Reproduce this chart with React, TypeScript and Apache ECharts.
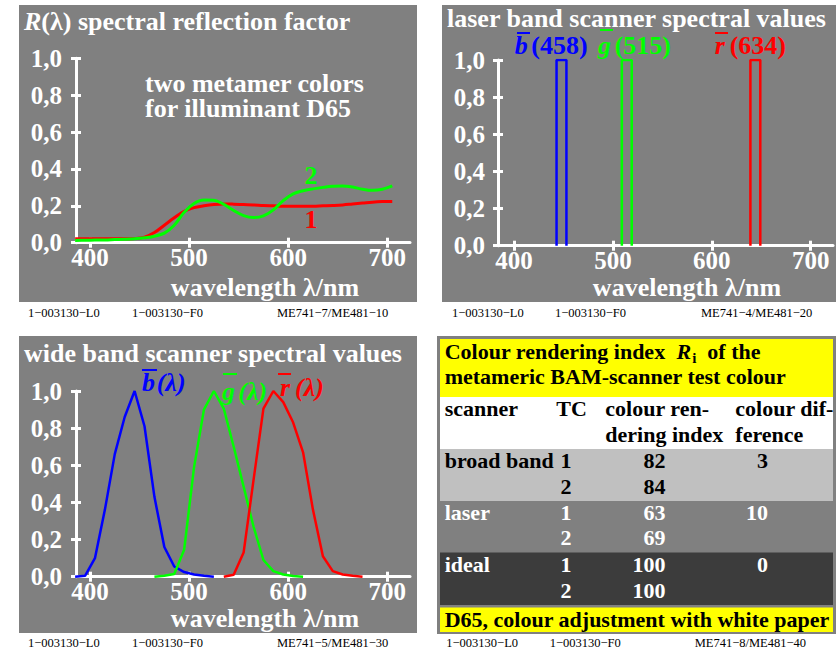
import React, { useEffect, useRef } from "react";
import * as echarts from "echarts";

const FONT = '"Liberation Serif", "Times New Roman", Times, serif';
const GRAY = "#808080";
const WHITE = "#ffffff";
const RED = "#ff0000";
const GREEN = "#00ff00";
const BLUE = "#0000ff";
const YELLOW = "#ffff00";

// ---- axis ticks ----
const xTickValues = [400, 500, 600, 700];

// ---- panel 1: spectral reflection factor of two metamer colours ----
const reflWavelengths = [385, 395, 405, 415, 425, 435, 445, 455, 465, 475, 485, 495, 505, 515, 525, 535, 545, 555, 565, 575, 585, 595, 605, 615, 625, 635, 645, 655, 665, 675, 685, 695, 705];
const reflColour1 = [0.022, 0.022, 0.022, 0.022, 0.022, 0.022, 0.023, 0.03, 0.055, 0.095, 0.135, 0.17, 0.19, 0.2, 0.207, 0.21, 0.209, 0.207, 0.205, 0.202, 0.2, 0.198, 0.197, 0.197, 0.198, 0.2, 0.202, 0.205, 0.21, 0.215, 0.22, 0.223, 0.224];
const reflColour2 = [0.012, 0.013, 0.014, 0.015, 0.017, 0.019, 0.022, 0.027, 0.035, 0.052, 0.095, 0.165, 0.213, 0.232, 0.23, 0.208, 0.175, 0.147, 0.136, 0.145, 0.178, 0.228, 0.265, 0.282, 0.292, 0.3, 0.306, 0.308, 0.302, 0.29, 0.284, 0.29, 0.308];

// ---- panel 2: laser band scanner ----
const laserBlueX = [443, 443, 453, 453];
const laserGreenX = [509, 509, 519, 519];
const laserRedX = [639, 639, 649, 649];
const laserY = [0, 1, 1, 0];
const laserLabels = ["(458)", "(515)", "(634)"];

// ---- panel 3: wide band scanner ----
const wideBlueWl = [385, 395, 405, 415, 425, 435, 445, 455, 465, 475, 485, 495, 505, 515, 525];
const wideBlue = [0, 0.005, 0.1, 0.36, 0.66, 0.86, 1.0, 0.81, 0.43, 0.16, 0.055, 0.025, 0.012, 0.005, 0];
const wideGreenWl = [465, 475, 485, 495, 505, 515, 525, 535, 545, 555, 565, 575, 585, 595, 605, 615];
const wideGreen = [0, 0.005, 0.015, 0.145, 0.59, 0.9, 1.0, 0.905, 0.7, 0.485, 0.27, 0.09, 0.03, 0.012, 0.004, 0];
const wideRedWl = [535, 545, 555, 565, 575, 585, 595, 605, 615, 625, 635, 645, 655, 665, 675];
const wideRed = [0, 0.01, 0.13, 0.52, 0.905, 1.0, 0.94, 0.83, 0.67, 0.36, 0.11, 0.03, 0.012, 0.005, 0];

// ---- panel 4: table ----
const tableTitleLine2 = "metameric BAM-scanner test colour";
const tableHead = ["scanner", "TC", "colour ren-", "dering index", "colour dif-", "ference"];
const scanners = ["broad band", "laser", "ideal"];
const testColours = ["1", "2"];
const criValues = [[82, 84], [63, 69], [100, 100]];
const colourDiff = [3, 10, 0];
const tableFooter = "D65, colour adjustment with white paper";

const M = "\u2212";
const footerL = `1${M}003130${M}L0`;
const footerF = `1${M}003130${M}F0`;
const footerCodes = [`ME741${M}7/ME481${M}10`, `ME741${M}4/ME481${M}20`, `ME741${M}5/ME481${M}30`, `ME741${M}8/ME481${M}40`];

const pairs = (xs: number[], ys: number[]) => xs.map((x, i) => [x, ys[i]]);

function buildAxes(gi: number, min: number, max: number, yMargin: number) {
  const tickStyle = { color: WHITE, width: 3 };
  const xAxes = [
    {
      type: "value", gridIndex: gi, min, max, position: "bottom",
      axisLine: { show: true, onZero: false, lineStyle: { color: WHITE, width: 3 } },
      axisTick: { show: true, customValues: xTickValues, length: 5, lineStyle: tickStyle },
      axisLabel: { show: true, customValues: xTickValues, color: WHITE, fontSize: 25, lineHeight: 18, fontWeight: "bold", fontFamily: FONT, margin: 6 },
      splitLine: { show: false },
    },
    {
      type: "value", gridIndex: gi, min, max, position: "bottom",
      axisLine: { show: false, onZero: false },
      axisTick: { show: true, inside: true, customValues: xTickValues, length: 5, lineStyle: tickStyle },
      axisLabel: { show: false },
      splitLine: { show: false },
    },
  ];
  const yAxes = [
    {
      type: "value", gridIndex: gi, min: 0, max: 1, interval: 0.2, position: "left",
      axisLine: { show: true, onZero: false, lineStyle: { color: WHITE, width: 3 } },
      axisTick: { show: true, length: 5, lineStyle: tickStyle },
      axisLabel: {
        show: true, color: WHITE, fontSize: 25, lineHeight: 20, fontWeight: "bold", fontFamily: FONT, margin: yMargin,
        formatter: (v: number) => v.toFixed(1).replace(".", ","),
      },
      splitLine: { show: false },
    },
    {
      type: "value", gridIndex: gi, min: 0, max: 1, interval: 0.2, position: "left", offset: 0,
      axisLine: { show: false, onZero: false },
      axisTick: { show: true, inside: true, length: 5, lineStyle: tickStyle },
      axisLabel: { show: false },
      splitLine: { show: false },
    },
  ];
  return { xAxes, yAxes };
}

function text(x: number, y: number, t: string, o: any = {}) {
  const fs = o.fontSize ?? 26;
  return {
    type: "text", x, y, z: 50, silent: true,
    style: {
      text: t,
      fill: o.fill ?? WHITE,
      fontSize: fs,
      lineHeight: Math.round(fs * 0.8),
      fontWeight: o.fontWeight ?? "bold",
      fontStyle: o.fontStyle ?? "normal",
      fontFamily: FONT,
      align: o.align ?? "left",
      verticalAlign: "middle",
      rich: o.rich,
    },
  };
}

function rect(x: number, y: number, w: number, h: number, fill: string, z = -10) {
  return { type: "rect", z, silent: true, shape: { x, y, width: w, height: h }, style: { fill } };
}

function overline(x1: number, x2: number, y: number, stroke: string) {
  return { type: "line", z: 50, silent: true, shape: { x1, y1: y, x2, y2: y }, style: { stroke, lineWidth: 2 } };
}

export default function App() {
  const ref = useRef<HTMLDivElement>(null);
  useEffect(() => {
    if (!ref.current) return;
    const chart = echarts.init(ref.current, null, { renderer: "svg" });

    const a0 = buildAxes(0, 385.87, 722.9, 14);
    const a1 = buildAxes(1, 383.8, 722.5, 13);
    const a2 = buildAxes(2, 385.87, 722.9, 14);

    const graphics: any[] = [];
    // panel backgrounds
    graphics.push(rect(19, 5, 398, 297, GRAY));
    graphics.push(rect(442, 5, 394, 297, GRAY));
    graphics.push(rect(19, 336, 398, 297, GRAY));

    // panel 1 texts
    graphics.push(text(24, 21, "{a|R}{b|(λ) spectral reflection factor}", {
      rich: {
        a: { fill: WHITE, fontSize: 26, lineHeight: 21, fontWeight: "bold", fontStyle: "italic", fontFamily: FONT },
        b: { fill: WHITE, fontSize: 26, lineHeight: 21, fontWeight: "bold", fontFamily: FONT },
      },
    }));
    graphics.push(text(145, 83, "two metamer colors"));
    graphics.push(text(145, 108, "for illuminant D65"));
    graphics.push(text(311, 175, "2", { fill: GREEN, align: "center" }));
    graphics.push(text(311, 219, "1", { fill: RED, align: "center" }));
    graphics.push(text(265, 287, "wavelength λ/nm", { align: "center" }));

    // panel 2 texts
    graphics.push(text(447, 18, "laser band scanner spectral values"));
    const laserLetterX = [514.7, 598, 714.7];
    const laserParenX = [531.3, 614.7, 729.7];
    const laserLetters = ["b", "g", "r"];
    const laserColours = [BLUE, GREEN, RED];
    laserLetters.forEach((l, i) => {
      graphics.push(text(laserLetterX[i], 45.5, l, { fill: laserColours[i], fontStyle: "italic" }));
      graphics.push(text(laserParenX[i], 45.5, laserLabels[i], { fill: laserColours[i] }));
    });
    graphics.push(overline(517, 530, 33, BLUE));
    graphics.push(overline(600, 613, 30, GREEN));
    graphics.push(overline(715, 728, 33, RED));
    graphics.push(text(687, 287.5, "wavelength λ/nm", { align: "center" }));

    // panel 3 texts
    graphics.push(text(24, 353, "wide band scanner spectral values"));
    const wideLetterX = [142, 222, 280];
    const wideParenX = [156.7, 238.3, 295];
    const wideY = [382.5, 391, 387.5];
    laserLetters.forEach((l, i) => {
      graphics.push(text(wideLetterX[i], wideY[i], l, { fill: laserColours[i], fontStyle: "italic" }));
      graphics.push(text(wideParenX[i], wideY[i], "(λ)", { fill: laserColours[i], fontStyle: "italic" }));
    });
    graphics.push(overline(142, 157, 370, BLUE));
    graphics.push(overline(223, 237, 374, GREEN));
    graphics.push(overline(278, 291, 374, RED));
    graphics.push(text(265, 618.5, "wavelength λ/nm", { align: "center" }));

    // panel 4 table
    const rowFills = ["#c0c0c0", "#808080", "#3c3c3c"];
    const rowInk = ["#000000", "#ffffff", "#ffffff"];
    graphics.push(rect(437, 336, 399, 298, GRAY));
    graphics.push(rect(440, 339, 393, 58, YELLOW, -9));
    graphics.push(rect(440, 397, 393, 52, WHITE, -9));
    const rowTops = [449, 501, 552.5];
    const rowH = [52, 51.5, 52.5];
    rowFills.forEach((f, i) => graphics.push(rect(440, rowTops[i], 393, rowH[i], f, -9)));
    graphics.push(rect(440, 607.5, 393, 24.5, YELLOW, -9));
    const T = 22;
    const blk = { fill: "#000000", fontSize: T };
    const tok = (o: any) => ({ fill: "#000000", fontFamily: FONT, fontWeight: "bold", fontSize: T, lineHeight: 18, ...o });
    graphics.push(text(444.7, 351, "{n|Colour rendering index  }{r|R}{s|i}{n|  of the}", {
      ...blk,
      rich: {
        n: tok({}),
        r: tok({ fontStyle: "italic" }),
        s: tok({ fontSize: 15, lineHeight: 12, padding: [14, 0, 0, 1] }),
      },
    }));
    graphics.push(text(444.7, 376, tableTitleLine2, blk));
    graphics.push(text(444.7, 408.4, tableHead[0], blk));
    graphics.push(text(556.3, 408.4, tableHead[1], blk));
    graphics.push(text(605.3, 408.4, tableHead[2], blk));
    graphics.push(text(605.3, 434.4, tableHead[3], blk));
    graphics.push(text(735.3, 408.4, tableHead[4], blk));
    graphics.push(text(735.3, 434.4, tableHead[5], blk));
    const lineY = [[460.4, 486], [512, 537.7], [564.4, 590]];
    scanners.forEach((s, i) => {
      const st = { fill: rowInk[i], fontSize: T };
      graphics.push(text(444.7, lineY[i][0], s, st));
      testColours.forEach((tc, j) => {
        graphics.push(text(566, lineY[i][j], tc, { ...st, align: "center" }));
        graphics.push(text(665.5, lineY[i][j], String(criValues[i][j]), { ...st, align: "right" }));
      });
      graphics.push(text(768, lineY[i][0], String(colourDiff[i]), { ...st, align: "right" }));
    });
    graphics.push(text(444.7, 619.4, tableFooter, blk));

    // footers
    const footY = [312.5, 312.5, 642.7, 642.7];
    const footX = [[28, 132, 277], [452, 555, 701], [28, 132, 277], [446.3, 549.7, 694.7]];
    footX.forEach((xs, k) => {
      const st = { fill: "#000000", fontSize: 12.5, fontWeight: "normal" };
      graphics.push(text(xs[0], footY[k], footerL, st));
      graphics.push(text(xs[1], footY[k], footerF, st));
      graphics.push(text(xs[2], footY[k], footerCodes[k], st));
    });

    const lineSeries = (data: number[][], color: string, xi: number, yi: number, smooth: boolean | number, width = 3) => ({
      type: "line", data, xAxisIndex: xi, yAxisIndex: yi, smooth, showSymbol: false, symbol: "none",
      lineStyle: { color, width }, clip: true, z: 5,
    });

    chart.setOption({
      animation: false,
      backgroundColor: "#ffffff",
      grid: [
        { left: 76, top: 58.3, width: 334, height: 184.4 },
        { left: 498, top: 60, width: 335, height: 185.7 },
        { left: 76, top: 391, width: 334, height: 185.7 },
      ],
      xAxis: [...a0.xAxes, ...a1.xAxes, ...a2.xAxes],
      yAxis: [...a0.yAxes, ...a1.yAxes, ...a2.yAxes],
      series: [
        lineSeries(pairs(reflWavelengths, reflColour1), RED, 0, 0, 0.4),
        lineSeries(pairs(reflWavelengths, reflColour2), GREEN, 0, 0, 0.4),
        lineSeries(pairs(laserBlueX, laserY), BLUE, 2, 2, false, 2.5),
        lineSeries(pairs(laserGreenX, laserY), GREEN, 2, 2, false, 2.5),
        lineSeries(pairs(laserRedX, laserY), RED, 2, 2, false, 2.5),
        lineSeries(pairs(wideBlueWl, wideBlue), BLUE, 4, 4, false, 2.5),
        lineSeries(pairs(wideGreenWl, wideGreen), GREEN, 4, 4, false, 2.5),
        lineSeries(pairs(wideRedWl, wideRed), RED, 4, 4, false, 2.5),
      ],
      graphic: { elements: graphics },
    });
    return () => chart.dispose();
  }, []);
  return <div ref={ref} style={{ position: "absolute", left: 0, top: 0, width: 836, height: 650 }} />;
}
